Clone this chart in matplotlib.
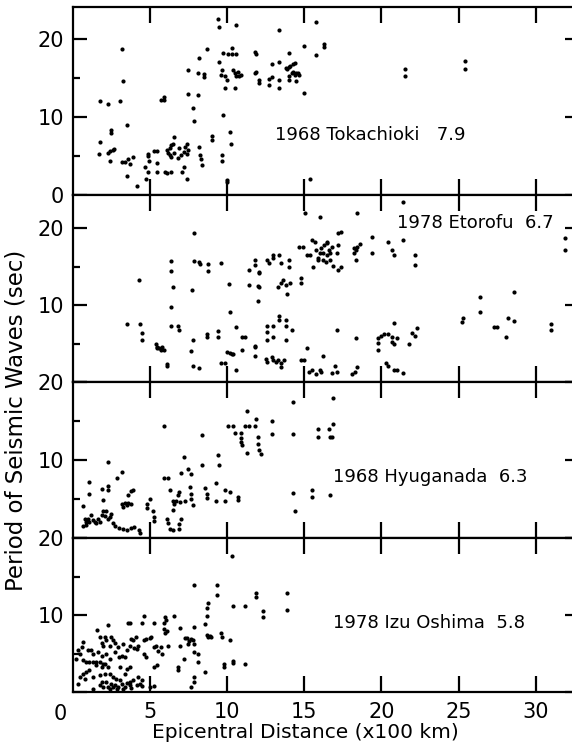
import numpy as np
import matplotlib
matplotlib.use('Agg')
import matplotlib.pyplot as plt
from matplotlib.ticker import FixedLocator

plt.rcParams.update({
    'font.family': 'DejaVu Sans',
    'font.size': 14,
    'axes.linewidth': 1.6,
})

# ============================================================
# DATA  (epicentral distance x100 km, period in sec)
# ============================================================
tokachioki = [
    (1.8, 12.0), (2.3, 11.7), (3.1, 12.0), (3.2, 18.7), (3.3, 14.6), (3.5, 9.0),
    (1.8, 6.8), (1.7, 5.3), (2.5, 8.3), (2.5, 7.9), (2.3, 5.4), (2.4, 5.6),
    (2.6, 5.8), (2.7, 5.9), (2.4, 4.4), (3.2, 4.2), (3.4, 4.2), (3.6, 4.6),
    (3.7, 4.0), (3.9, 4.9), (3.5, 2.4), (4.2, 1.1), (4.75, 2.1), (4.9, 5.0),
    (4.9, 5.3), (4.95, 4.3), (4.7, 3.6), (4.9, 3.0), (5.5, 4.1), (5.5, 3.0),
    (5.3, 5.6), (5.5, 5.6), (5.7, 12.2), (5.9, 12.2), (5.9, 12.6), (6.0, 3.0),
    (6.1, 2.8), (6.4, 3.0), (6.1, 5.8), (6.2, 5.4), (6.3, 6.0), (6.4, 6.4),
    (6.5, 6.6), (6.6, 7.4), (6.3, 5.1), (6.4, 4.9), (6.6, 5.4), (6.8, 4.7),
    (6.9, 6.0), (7.0, 5.1), (7.2, 5.5), (7.3, 6.2), (7.4, 6.5), (7.5, 5.8),
    (7.4, 5.3), (7.2, 3.6), (7.1, 3.0), (7.4, 2.1), (7.45, 16.0), (7.45, 12.9),
    (7.8, 11.2), (7.9, 9.5), (8.1, 15.7), (8.2, 17.5), (8.1, 12.8), (8.2, 6.2),
    (8.25, 5.1), (8.35, 4.6), (8.4, 3.8), (8.5, 15.5), (8.5, 15.1), (8.7, 18.7),
    (9.05, 7.5), (9.05, 7.1), (9.45, 22.6), (9.5, 21.6), (9.5, 17.0), (9.65, 16.0),
    (9.6, 15.4), (9.65, 5.1), (9.65, 4.4), (9.75, 10.3), (9.75, 18.2), (9.9, 13.7),
    (10.0, 1.7), (10.0, 1.9), (9.9, 15.3), (10.0, 14.7), (10.1, 18.1), (10.3, 18.1),
    (10.6, 18.1), (10.35, 18.9), (10.2, 8.1), (10.25, 6.5), (10.4, 16.0), (10.5, 15.6),
    (10.6, 15.2), (10.7, 15.8), (10.8, 15.2), (10.9, 15.4), (10.5, 13.7), (10.6, 21.8),
    (11.8, 18.3), (11.9, 18.1), (11.8, 15.7), (11.9, 15.8), (12.1, 14.7), (12.1, 14.3),
    (12.7, 14.9), (12.9, 15.1), (12.7, 14.1), (12.9, 16.8), (13.4, 21.1), (13.4, 17.1),
    (13.4, 14.7), (13.4, 13.7), (13.8, 16.3), (13.9, 16.1), (14.0, 16.4), (14.1, 16.6),
    (14.3, 16.8), (14.4, 16.9), (14.0, 15.2), (14.0, 14.7), (14.2, 15.6), (14.3, 15.8),
    (14.4, 15.4), (14.5, 15.6), (14.6, 15.7), (14.5, 14.6), (14.7, 15.4), (14.0, 18.2),
    (15.0, 19.1), (15.0, 13.1), (15.8, 22.2), (15.8, 18.0), (16.3, 19.4), (16.3, 19.0),
    (15.4, 2.1), (21.5, 16.2), (21.5, 15.3), (25.4, 17.2), (25.4, 16.2),
]

etorofu = [
    (7.9, 19.4), (4.3, 13.2), (3.5, 7.6), (4.4, 7.5), (4.5, 6.4), (4.5, 5.4),
    (5.4, 5.0), (5.5, 4.6), (5.6, 4.4), (5.8, 4.6), (5.9, 4.2), (5.7, 4.2), (5.5, 4.4),
    (6.1, 2.4), (6.1, 2.1), (6.4, 15.7), (6.35, 14.4), (6.5, 12.3), (6.4, 9.7),
    (6.4, 7.3), (6.85, 7.3), (6.9, 6.8), (7.75, 12.0), (7.8, 5.4), (7.7, 4.0),
    (7.8, 2.1), (8.2, 1.8), (7.9, 15.7), (8.2, 15.6), (8.25, 15.3), (8.8, 15.3),
    (8.8, 14.4), (9.6, 15.5), (8.7, 6.3), (8.7, 5.8), (9.4, 6.6), (9.4, 5.8),
    (9.6, 2.5), (9.9, 2.5), (10.0, 3.9), (10.2, 3.8), (10.3, 3.7), (10.4, 3.7),
    (10.15, 12.7), (10.2, 9.1), (10.6, 1.5), (10.6, 7.2), (11.0, 5.8), (11.2, 5.9),
    (11.0, 4.1), (11.4, 14.6), (11.4, 12.6), (11.8, 15.9), (11.8, 15.2), (11.8, 4.6),
    (11.8, 3.4), (12.0, 12.5), (12.0, 10.5), (12.1, 14.3),
    (12.1, 14.1), (12.1, 12.4), (12.6, 15.8), (12.7, 15.5), (13.0, 16.5), (13.0, 16.1),
    (13.4, 16.5), (13.5, 15.5), (14.0, 15.9), (14.0, 14.9), (13.3, 12.4), (13.5, 12.8),
    (13.6, 13.2), (13.8, 12.6), (13.9, 11.4), (14.1, 12.9), (14.8, 13.5), (14.8, 12.9),
    (14.7, 17.5), (14.9, 17.5), (15.05, 21.9), (16.0, 21.5), (15.5, 18.5), (15.7, 18.2),
    (15.2, 16.5), (15.4, 16.5), (15.55, 14.9), (15.8, 17.2), (15.9, 16.1), (16.0, 16.7),
    (16.1, 17.4), (16.2, 16.7), (16.3, 17.8), (16.5, 18.2), (16.6, 17.2), (16.5, 16.5),
    (16.7, 16.8), (16.8, 17.5), (16.7, 15.9), (16.2, 15.9), (15.9, 15.8), (16.4, 15.6),
    (16.9, 15.1), (16.5, 18.0), (17.2, 19.3), (17.4, 19.5), (17.2, 17.8), (17.1, 16.7),
    (17.2, 14.5), (17.4, 14.9), (18.4, 22.0), (18.2, 17.4), (18.35, 17.1), (18.45, 17.6),
    (18.6, 17.9), (18.2, 16.7), (18.35, 15.8), (19.4, 18.8), (19.4, 16.7), (20.4, 18.2),
    (20.7, 17.1), (20.8, 16.5), (21.4, 23.4), (21.4, 18.4), (22.2, 16.5), (22.2, 15.2),
    (25.3, 8.3), (25.2, 7.8), (26.4, 11.1), (26.4, 9.1), (27.3, 7.2), (27.5, 7.1),
    (28.2, 8.3), (28.1, 5.9), (28.6, 11.7), (28.6, 7.9), (31.0, 7.5), (31.0, 6.8),
    (31.9, 18.7), (31.9, 17.1),
    (13.4, 8.6), (13.4, 8.0), (13.8, 8.0), (13.8, 7.3), (14.2, 6.8), (13.0, 7.3),
    (12.6, 7.3), (12.6, 6.5), (12.6, 5.5), (13.0, 5.9), (13.8, 5.4), (11.8, 4.7),
    (12.5, 3.0), (12.6, 2.6), (12.9, 3.2), (13.0, 2.8), (13.2, 2.6), (13.3, 2.8),
    (13.5, 2.5), (13.5, 2.0), (13.7, 2.8), (14.8, 2.9), (15.0, 2.8), (15.2, 4.4),
    (15.3, 1.3), (15.5, 1.5), (15.8, 1.1), (16.0, 1.5), (16.1, 1.3), (16.2, 3.4),
    (16.8, 1.2), (17.0, 2.1), (17.1, 1.3), (17.1, 6.8), (18.1, 1.1), (18.3, 1.3),
    (18.4, 2.0), (18.35, 5.7), (19.8, 5.7), (19.8, 5.1), (19.8, 4.2), (20.0, 6.0),
    (20.2, 6.2), (20.4, 6.2), (20.7, 5.9), (20.7, 5.2), (20.8, 4.9), (21.0, 5.7),
    (20.8, 7.7), (20.3, 2.5), (20.4, 2.1), (20.8, 1.6), (21.0, 1.6), (21.4, 1.2),
    (21.8, 4.9), (22.0, 6.4), (22.2, 6.0), (22.3, 7.0),
]

hyuganada = [
    (2.3, 9.7), (3.2, 8.5), (2.9, 7.7), (1.1, 7.2), (1.1, 5.7), (0.7, 4.1),
    (1.9, 6.3), (2.3, 6.2), (2.3, 6.7), (2.0, 4.9), (3.8, 6.0), (3.6, 5.5),
    (3.9, 6.2), (3.2, 4.3), (3.4, 4.5), (3.6, 4.5), (3.8, 4.3), (3.3, 4.0), (3.5, 4.2),
    (0.8, 2.5), (0.9, 2.1), (1.0, 2.5), (1.2, 2.9), (1.1, 2.1), (1.3, 2.3),
    (1.45, 2.1), (1.55, 1.9), (1.65, 2.5), (1.8, 2.1), (1.9, 2.9), (2.0, 3.4),
    (2.1, 2.8), (2.2, 3.4), (2.3, 2.5), (2.4, 2.7), (2.5, 3.1), (0.85, 1.7),
    (0.7, 1.5), (2.6, 1.9), (2.75, 1.5), (3.0, 1.25), (3.3, 1.2), (3.5, 1.0),
    (3.8, 1.3), (4.0, 1.45), (4.3, 1.0), (4.4, 0.7), (4.8, 4.3), (4.8, 3.8),
    (5.0, 5.0), (5.2, 3.4), (5.3, 2.7), (5.3, 2.2), (5.9, 14.4), (5.9, 7.7),
    (6.2, 7.7), (6.3, 6.2), (6.1, 2.4), (6.2, 1.9), (6.3, 1.2), (6.5, 1.0),
    (6.5, 4.7), (6.6, 4.3), (6.7, 4.7), (6.85, 5.5), (6.9, 5.9), (6.95, 4.6),
    (6.5, 3.6), (7.0, 2.4), (6.9, 1.75), (6.9, 1.15), (7.0, 8.3), (7.5, 8.9),
    (7.2, 10.4), (7.65, 8.2), (7.6, 6.6), (7.65, 5.7), (7.7, 5.0), (7.8, 4.2),
    (7.3, 4.7), (8.4, 13.2), (8.4, 9.3), (8.6, 6.4), (8.7, 5.7), (8.7, 5.1),
    (9.3, 7.0), (9.3, 4.7), (9.4, 10.6), (9.5, 9.3), (9.9, 6.2), (10.2, 5.9),
    (9.9, 4.7), (10.7, 5.3), (10.7, 4.9), (10.1, 14.3), (10.4, 14.3), (10.5, 13.4),
    (10.9, 13.4), (10.9, 12.8), (10.9, 12.3), (11.0, 11.9), (11.3, 16.3), (11.2, 14.3),
    (11.4, 14.3), (11.8, 14.3), (11.9, 15.3), (11.3, 10.9), (12.0, 12.9), (12.0, 12.1),
    (12.1, 11.3), (12.2, 10.8), (12.95, 15.0), (12.95, 13.3), (14.3, 17.5), (14.3, 13.3),
    (14.3, 5.8), (14.4, 3.4), (15.5, 6.1), (15.5, 5.2), (15.9, 14.0), (15.9, 12.9),
    (16.6, 14.0), (16.7, 12.9), (16.8, 12.9), (16.9, 17.9), (16.9, 14.6), (16.7, 5.5),
]

izu_oshima = [
    (10.35, 17.7), (7.86, 13.85), (9.37, 13.85), (9.37, 12.65), (11.9, 12.9), (11.9, 12.4),
    (10.4, 11.15), (11.2, 11.15), (8.75, 11.6), (8.7, 10.85), (8.7, 9.9), (8.6, 8.8),
    (8.7, 7.4), (8.8, 7.2), (8.9, 7.3), (9.0, 7.2), (9.6, 7.7), (9.7, 7.2),
    (10.2, 6.75), (9.8, 3.6), (9.8, 3.3), (10.4, 4.0), (10.4, 3.8), (11.2, 3.6),
    (8.6, 2.6), (7.9, 2.0), (7.9, 1.3), (7.65, 0.6), (7.9, 8.4), (7.8, 6.75),
    (7.9, 6.2), (7.9, 5.2), (8.1, 3.9), (8.1, 4.9), (7.4, 7.0), (7.55, 6.6),
    (7.5, 6.2), (7.7, 6.9), (7.3, 7.0), (7.2, 4.3), (6.85, 3.25), (6.85, 2.9),
    (6.6, 9.9), (6.95, 8.3), (6.95, 6.0), (6.0, 9.7), (6.05, 9.3), (5.9, 8.9),
    (5.9, 8.2), (6.0, 7.7), (6.1, 7.9), (5.3, 8.9), (5.1, 7.1), (5.3, 5.8),
    (5.4, 6.0), (5.55, 5.3), (5.7, 5.9), (5.8, 5.0), (6.2, 6.0), (5.3, 3.3),
    (5.5, 3.5), (5.3, 0.8), (4.6, 9.9), (4.5, 9.0), (4.6, 6.7), (4.75, 6.9),
    (5.0, 7.0), (4.6, 5.0), (4.75, 4.5), (4.5, 1.6), (4.5, 0.8), (5.0, 0.7),
    (3.6, 9.0), (3.75, 9.0), (4.1, 7.1), (3.8, 6.9), (3.9, 6.7), (4.25, 6.0),
    (4.2, 5.6), (4.0, 5.7), (3.75, 6.0), (3.5, 5.4), (3.4, 4.5), (3.2, 4.7),
    (3.0, 4.6), (2.75, 5.2), (2.3, 8.7), (1.6, 8.0), (1.8, 7.1), (2.1, 7.1),
    (2.2, 6.8), (2.5, 7.1), (2.6, 6.8), (1.9, 6.4), (2.0, 6.0), (2.75, 6.4),
    (2.4, 6.0), (2.95, 5.9), (3.3, 6.2), (0.7, 6.5), (0.6, 5.8), (0.35, 5.4),
    (0.5, 5.0), (0.25, 4.3), (0.7, 4.1), (1.0, 5.4), (1.2, 5.4), (1.3, 5.0),
    (1.65, 5.2), (1.9, 4.7), (2.2, 4.9), (2.4, 4.3), (0.9, 3.9), (1.1, 3.9),
    (1.35, 3.9), (1.55, 3.9), (1.8, 3.9), (1.95, 3.7), (2.1, 3.7), (1.55, 3.5),
    (1.9, 3.2), (2.3, 3.2), (3.1, 3.2), (3.5, 3.0), (3.7, 3.2), (3.4, 2.3),
    (0.5, 2.0), (0.65, 2.4), (0.9, 2.6), (1.1, 2.8), (0.8, 1.75), (1.35, 2.0),
    (1.8, 2.2), (2.1, 2.4), (2.4, 2.4), (2.6, 2.0), (2.8, 1.75), (3.05, 1.55),
    (1.9, 1.3), (2.2, 1.3), (2.5, 1.1), (2.75, 0.9), (3.2, 1.1), (3.5, 1.2),
    (3.7, 1.3), (3.9, 1.55), (4.25, 2.0), (2.0, 0.7), (2.3, 0.7), (2.6, 0.6),
    (2.95, 0.7), (3.4, 0.7), (3.7, 0.9), (0.35, 1.1), (1.35, 0.35), (1.8, 0.9),
    (2.4, 0.35), (2.85, 0.35), (3.3, 0.35), (3.8, 0.5), (4.15, 0.9), (4.35, 1.1),
    (12.35, 10.5), (12.35, 9.8), (13.9, 12.9), (13.9, 10.6),
]

labels = ['1968 Tokachioki   7.9', '1978 Etorofu  6.7',
          '1968 Hyuganada  6.3', '1978 Izu Oshima  5.8']
label_pos = [(13.1, 7.7), (21.0, 20.6), (16.9, 7.8), (16.9, 9.0)]
panels = [tokachioki, etorofu, hyuganada, izu_oshima]
ytops = [24.1, 24.3, 20, 20]
ylabels = [['0', '10', '20'], ['', '10', '20'], ['', '10', '20'], ['', '10', '20']]
xticks = [5, 10, 15, 20, 25, 30]

# ============================================================
# FIGURE
# ============================================================
W, H = 572, 745
fig = plt.figure(figsize=(W / 100, H / 100), dpi=100)

# panel edges in pixels (top, bottom)
edges = [(7, 195), (195, 382), (382, 538), (538, 692)]
left_px, right_px = 72.5, 579

axes = []
for i, (top, bot) in enumerate(edges):
    ax = fig.add_axes([left_px / W, 1 - bot / H, (right_px - left_px) / W, (bot - top) / H])
    pts = np.array(panels[i])
    ax.scatter(pts[:, 0], pts[:, 1], s=9, color='black', marker='o', linewidths=0, zorder=3)
    ax.set_xlim(0, 32.8)
    ax.set_ylim(0, ytops[i])
    ax.xaxis.set_major_locator(FixedLocator(xticks))
    ax.yaxis.set_major_locator(FixedLocator([0, 10, 20]))
    ax.yaxis.set_minor_locator(FixedLocator([5, 15]))
    ax.set_yticklabels(ylabels[i])
    ax.tick_params(axis='both', which='both', direction='in', top=True, right=True, width=1.6)
    ax.tick_params(axis='x', length=11.5, pad=7, labelsize=15)
    ax.tick_params(axis='y', which='major', length=10, pad=6, labelsize=15)
    ax.tick_params(axis='y', which='minor', length=5)
    ax.text(*label_pos[i], labels[i], fontsize=13, ha='left', va='center')
    if i < 3:
        ax.set_xticklabels([])
    axes.append(ax)

axes[-1].set_xticklabels([str(t) for t in xticks])
axes[-1].text(-0.8, -0.08, '0', transform=axes[-1].get_xaxis_transform(),
              fontsize=15, ha='center', va='top')

fig.text(305 / W, 1 - 732 / H, 'Epicentral Distance (x100 km)', fontsize=14.5,
         ha='center', va='center')
fig.text(16 / W, 1 - 420 / H, 'Period of Seismic Waves (sec)', fontsize=16.5,
         ha='center', va='center', rotation=90)

fig.savefig('out.png', dpi=100)
